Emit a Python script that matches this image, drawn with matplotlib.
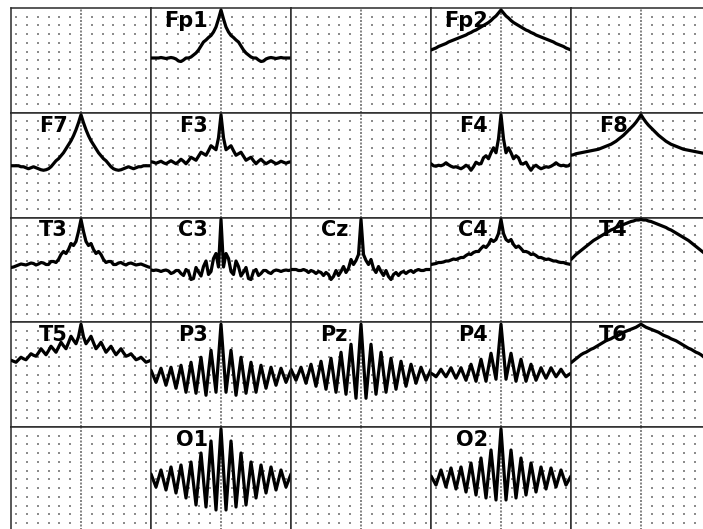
import numpy as np
import matplotlib
matplotlib.use('Agg')
import matplotlib.pyplot as plt

# autocorrelation per channel, lag 0..28 (one side, the other side is its mirror)
fp1 = [1.00, 0.82, 0.66, 0.56, 0.49, 0.45, 0.40, 0.36, 0.28, 0.20, 0.14, 0.10, 0.06, 0.04, 0.04,
       0.00, -0.03, -0.02, 0.02, 0.04, 0.05, 0.04, 0.03, 0.04, 0.05, 0.04, 0.04, 0.04, 0.04]
fp2 = [1.00, 0.94, 0.88, 0.84, 0.79, 0.75, 0.72, 0.69, 0.66, 0.63, 0.60, 0.58, 0.55, 0.53, 0.50,
       0.48, 0.46, 0.44, 0.42, 0.40, 0.38, 0.36, 0.33, 0.31, 0.29, 0.27, 0.24, 0.22, 0.20]
f7 = [1.00, 0.84, 0.70, 0.58, 0.48, 0.40, 0.32, 0.24, 0.18, 0.12, 0.08, 0.02, -0.04, -0.08, -0.10,
      -0.11, -0.10, -0.08, -0.06, -0.04, -0.06, -0.08, -0.06, -0.04, -0.04, -0.02, -0.02, -0.02, -0.02]
f3 = [1.00, 0.54, 0.30, 0.34, 0.38, 0.28, 0.19, 0.22, 0.25, 0.17, 0.09, 0.12, 0.15, 0.08, 0.02,
      0.07, 0.11, 0.06, 0.02, 0.05, 0.08, 0.05, 0.02, 0.04, 0.07, 0.05, 0.03, 0.05, 0.06]
f4 = [1.00, 0.52, 0.24, 0.34, 0.24, 0.12, 0.18, 0.14, 0.02, 0.02, 0.05, -0.04, -0.11, -0.04, -0.01,
      -0.05, -0.08, -0.06, -0.04, -0.05, -0.03, 0.00, 0.04, 0.00, -0.02, -0.01, -0.03, -0.02, 0.02]
f8 = [1.00, 0.92, 0.85, 0.79, 0.74, 0.69, 0.64, 0.59, 0.55, 0.51, 0.47, 0.44, 0.41, 0.39, 0.37,
      0.35, 0.33, 0.31, 0.30, 0.29, 0.28, 0.27, 0.26, 0.25, 0.24, 0.23, 0.22, 0.20, 0.19]
t3 = [1.00, 0.76, 0.56, 0.48, 0.52, 0.40, 0.32, 0.36, 0.30, 0.20, 0.14, 0.16, 0.16, 0.10, 0.10,
      0.13, 0.14, 0.11, 0.09, 0.12, 0.13, 0.11, 0.09, 0.10, 0.11, 0.09, 0.07, 0.05, 0.04]
c3 = [1.00, 0.05, 0.32, 0.22, -0.04, -0.10, 0.17, 0.06, -0.13, -0.05, 0.04, -0.18, -0.20, -0.04, 0.00,
      -0.12, -0.08, -0.02, -0.02, -0.06, -0.08, -0.03, -0.01, -0.02, -0.04, -0.02, -0.01, -0.02, -0.01]
cz = [1.00, 0.30, 0.18, 0.10, 0.20, 0.02, -0.06, 0.06, -0.04, -0.12, -0.02, -0.14, -0.20, -0.10, -0.06,
      -0.12, -0.06, -0.04, -0.08, -0.04, -0.02, -0.06, -0.02, 0.00, -0.02, -0.02, 0.00, 0.00, 0.00]
c4 = [1.00, 0.72, 0.60, 0.56, 0.60, 0.50, 0.44, 0.47, 0.42, 0.36, 0.36, 0.34, 0.30, 0.31, 0.28,
      0.24, 0.24, 0.22, 0.20, 0.21, 0.19, 0.17, 0.17, 0.15, 0.14, 0.14, 0.12, 0.11, 0.10]
t4 = [1.00, 0.99, 0.99, 0.97, 0.96, 0.94, 0.92, 0.90, 0.88, 0.86, 0.84, 0.81, 0.79, 0.76, 0.73,
      0.70, 0.67, 0.64, 0.61, 0.58, 0.54, 0.50, 0.46, 0.42, 0.38, 0.34, 0.30, 0.25, 0.20]
t5 = [1.00, 0.75, 0.61, 0.68, 0.76, 0.63, 0.51, 0.57, 0.64, 0.54, 0.44, 0.50, 0.56, 0.47, 0.39,
      0.45, 0.51, 0.43, 0.36, 0.38, 0.41, 0.35, 0.29, 0.31, 0.34, 0.29, 0.24, 0.26, 0.28]
p3 = [1.00, 0.32, -0.36, 0.06, 0.48, 0.04, -0.42, -0.04, 0.34, -0.02, -0.38, -0.06, 0.24, -0.06, -0.36,
      -0.08, 0.18, -0.05, -0.28, -0.07, 0.14, -0.04, -0.22, -0.05, 0.12, -0.02, -0.16, -0.04, 0.08]
pz = [1.00, 0.26, -0.48, 0.06, 0.60, 0.10, -0.40, 0.02, 0.44, 0.04, -0.36, -0.02, 0.32, 0.01, -0.30,
      -0.02, 0.26, 0.01, -0.24, -0.02, 0.20, 0.01, -0.18, -0.02, 0.14, 0.01, -0.12, -0.01, 0.10]
p4 = [1.00, 0.45, -0.10, 0.16, 0.42, 0.14, -0.14, 0.08, 0.30, 0.08, -0.14, 0.03, 0.20, 0.04, -0.12,
      0.00, 0.13, 0.02, -0.08, 0.02, 0.13, 0.04, -0.05, 0.02, 0.10, 0.02, -0.05, -0.01, 0.02]
t6 = [1.00, 0.97, 0.94, 0.92, 0.90, 0.88, 0.86, 0.84, 0.81, 0.78, 0.76, 0.74, 0.71, 0.69, 0.67,
      0.64, 0.61, 0.58, 0.55, 0.52, 0.50, 0.47, 0.44, 0.42, 0.39, 0.35, 0.31, 0.27, 0.23]
o1 = [1.00, 0.19, -0.62, 0.07, 0.76, 0.10, -0.56, -0.02, 0.52, 0.00, -0.52, -0.09, 0.34, -0.02, -0.38,
      -0.05, 0.28, 0.00, -0.28, -0.02, 0.24, 0.01, -0.22, -0.02, 0.18, 0.01, -0.16, -0.03, 0.10]
o2 = [1.00, 0.29, -0.42, 0.08, 0.58, 0.10, -0.38, 0.02, 0.42, 0.05, -0.32, 0.00, 0.32, 0.03, -0.26,
      -0.01, 0.24, 0.02, -0.20, 0.01, 0.22, 0.03, -0.16, 0.01, 0.18, 0.03, -0.12, -0.03, 0.06]

acf = {'Fp1': fp1, 'Fp2': fp2, 'F7': f7, 'F3': f3, 'F4': f4, 'F8': f8,
       'T3': t3, 'C3': c3, 'Cz': cz, 'C4': c4, 'T4': t4,
       'T5': t5, 'P3': p3, 'Pz': pz, 'P4': p4, 'T6': t6, 'O1': o1, 'O2': o2}

# 10-20 montage laid out on a 5x5 grid
montage = [['', 'Fp1', '', 'Fp2', ''],
           ['F7', 'F3', '', 'F4', 'F8'],
           ['T3', 'C3', 'Cz', 'C4', 'T4'],
           ['T5', 'P3', 'Pz', 'P4', 'T6'],
           ['', 'O1', '', 'O2', '']]

W, H = 703, 529
X0, Y0 = 11, 8          # top-left corner of the grid, px
CW, CH = 140, 104.75    # cell size, px
MAXLAG = 28

fig = plt.figure(figsize=(W / 100, H / 100), dpi=100)
fig.patch.set_facecolor('white')

# dot raster inside every cell (axes fractions)
gx = 0.5 + np.array([k for k in range(-6, 7) if k != 0]) / 13
gy = np.arange(1, 12) / 12
dot_x, dot_y = np.meshgrid(gx, gy)

for r, row in enumerate(montage):
    for c, name in enumerate(row):
        left = (X0 + c * CW) / W
        bottom = 1 - (Y0 + (r + 1) * CH) / H
        ax = fig.add_axes([left, bottom, CW / W, CH / H])
        ax.set_xlim(-MAXLAG, MAXLAG)
        ax.set_ylim(-1.055, 1.04)
        ax.set_xticks([])
        ax.set_yticks([])
        for s in ax.spines.values():
            s.set_color('#2a2a2a')
            s.set_linewidth(1.1)

        ax.scatter(dot_x.ravel(), dot_y.ravel(), s=2.6, marker='s', color='#8c8c8c',
                   linewidths=0, transform=ax.transAxes, zorder=1)
        ax.axvline(0, color='#6e6e6e', lw=1.2, ls=(0, (1.2, 0.9)), zorder=1)

        if not name:
            continue
        half = np.array(acf[name])
        lags = np.arange(-MAXLAG, MAXLAG + 1)
        vals = np.concatenate([half[:0:-1], half])
        ax.text(0.5 - 13 / CW, 1 - 19 / CH, name, transform=ax.transAxes,
                ha='right', va='baseline', fontsize=15, fontweight='heavy',
                family='DejaVu Sans', color='black', zorder=2)
        ax.plot(lags, vals, color='black', lw=2.3, solid_joinstyle='round',
                solid_capstyle='round', zorder=3)

fig.savefig('out.png', dpi=100, facecolor='white')
